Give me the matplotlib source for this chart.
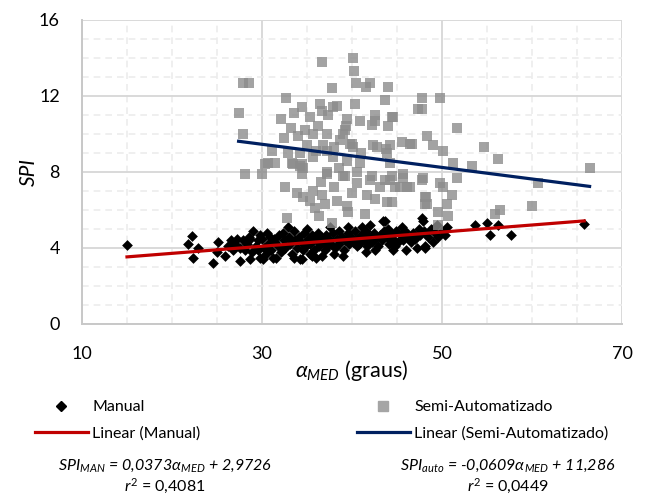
import numpy as np
import matplotlib
matplotlib.use('Agg')
import matplotlib.pyplot as plt
from matplotlib.lines import Line2D
from matplotlib.ticker import MultipleLocator

plt.rcParams['font.family'] = ['Lato', 'DejaVu Sans']
plt.rcParams['mathtext.fontset'] = 'custom'
plt.rcParams['mathtext.rm'] = 'Lato'
plt.rcParams['mathtext.it'] = 'Lato:italic'
plt.rcParams['mathtext.bf'] = 'Lato:bold'

# Manual (black diamonds)
man_x = [15.0, 22.2, 21.8, 22.9, 22.3, 24.6, 25.1, 25.0, 25.9, 27.2, 27.6, 27.6, 28.3, 29.0,
         28.7, 28.9, 29.8, 29.8, 30.6, 30.7, 31.4, 31.6, 32.3, 32.6, 28.7, 31.2, 32.9, 34.2,
         35.0, 35.6, 36.7, 37.6, 34.4, 35.3, 37.3, 41.1, 43.4, 43.7, 40.6, 44.8, 44.6, 47.2,
         48.1, 49.0, 47.9, 49.4, 47.8, 50.6, 53.7, 55.0, 56.2, 55.3, 57.7, 65.8, 48.1,
         26.2, 26.5, 26.8, 27.0, 27.9, 28.1, 28.5, 29.3, 29.5, 29.6, 30.0, 30.2, 30.4, 30.9,
         31.0, 31.3, 31.8, 31.9, 32.1, 32.4, 33.0, 33.1, 33.3, 33.5, 33.7, 33.9, 34.1, 34.3,
         34.5, 34.7, 34.9, 35.1, 35.3, 35.5, 35.8, 36.0, 36.2, 36.3, 36.5, 36.8, 37.0, 37.1,
         37.4, 37.7, 37.9, 38.1, 38.3, 38.5, 38.6, 38.9, 39.1, 39.2, 39.5, 39.7, 39.9, 40.1,
         40.3, 40.5, 40.8, 41.0, 41.3, 41.5, 41.7, 41.9, 42.2, 42.4, 42.6, 42.9, 43.1, 43.3,
         43.6, 43.9, 44.1, 44.3, 44.6, 44.9, 45.1, 45.4, 45.7, 45.9, 46.2, 46.5, 46.8, 47.0,
         47.4, 47.6, 48.0, 48.4, 48.8, 49.2, 49.6, 50.0, 50.3,
         36.0, 38.0, 39.0, 41.5, 42.5, 46.0, 39.6, 42.0, 44.0, 45.5, 33.6, 30.1]
man_y = [4.15, 4.65, 4.2, 4.0, 3.45, 3.2, 4.3, 3.8, 3.6, 4.5, 4.0, 3.3, 4.2, 4.9,
         4.5, 3.8, 4.7, 3.5, 4.8, 4.2, 4.3, 3.5, 4.8, 4.0, 3.4, 3.5, 5.1, 3.4,
         5.0, 3.6, 3.6, 5.1, 3.4, 3.7, 4.1, 5.1, 5.4, 5.4, 4.1, 4.1, 3.9, 4.0,
         4.1, 4.3, 5.4, 5.2, 5.6, 5.1, 5.2, 5.3, 5.2, 4.7, 4.7, 5.25, 4.0,
         4.1, 4.4, 3.9, 4.2, 4.4, 3.9, 4.6, 4.1, 4.4, 3.9, 4.5, 4.0, 3.7, 4.6,
         3.9, 4.5, 4.1, 4.7, 3.8, 4.4, 4.6, 4.2, 3.7, 4.9, 4.4, 4.0, 4.6, 4.3,
         3.9, 4.8, 4.1, 4.5, 4.2, 4.7, 3.9, 4.4, 4.8, 4.1, 4.6, 4.3, 3.9, 4.7,
         4.5, 4.2, 4.8, 4.0, 4.5, 4.9, 4.2, 4.6, 3.9, 4.4, 4.8, 4.2, 4.6, 4.3,
         4.9, 4.5, 4.2, 4.7, 4.4, 4.9, 4.1, 4.6, 4.3, 4.8, 4.5, 4.1, 4.7, 4.4,
         4.9, 4.6, 4.2, 4.8, 4.5, 4.9, 4.3, 4.7, 4.4, 4.9, 4.6, 4.3, 4.8, 4.5,
         5.0, 4.7, 4.9, 4.6, 5.0, 4.8, 4.6, 4.9, 4.7,
         3.5, 3.7, 3.6, 3.8, 3.9, 3.9, 5.1, 5.2, 5.0, 5.1, 3.5, 3.4]

# Semi-Automatizado (gray squares)
auto_x = [27.9, 28.6, 36.7, 40.1, 40.2, 40.4, 41.6, 42.0, 44.0, 37.8, 43.7, 40.3, 47.8, 47.8,
          49.8, 44.6, 44.0, 51.7, 48.3, 45.6, 46.7, 49.0, 50.1, 54.7, 56.2, 51.2, 53.3, 66.4,
          43.8, 44.2, 43.7, 45.7, 47.8, 49.8, 51.7, 60.7, 44.8, 46.1, 50.1, 51.1, 48.2, 43.9,
          50.6, 48.1, 60.0, 56.4, 55.9, 49.6, 50.7, 49.6,
          32.7, 27.4, 36.4, 34.4, 33.6, 38.3, 37.9, 36.7, 37.3, 35.3, 32.1, 39.4, 40.9, 42.6,
          42.6, 44.4, 47.3, 33.2, 34.8, 36.2, 39.3, 42.2, 27.9, 32.4, 34.0, 35.7, 37.2, 39.0,
          38.7, 40.0, 40.1, 42.3, 42.8, 44.2, 46.4, 35.0, 31.1, 32.9, 34.2, 36.8, 37.2, 35.7,
          37.9, 39.4, 40.9, 43.9, 30.7, 30.3, 31.4, 33.4, 34.4, 34.6, 37.2, 39.2, 42.2, 44.4,
          45.7, 28.1, 30.0,
          32.6, 33.9, 34.6, 35.7, 35.3, 35.9, 36.7, 32.8, 34.2, 34.4, 33.3,
          39.2, 39.8, 37.2, 39.0, 40.6, 42.0, 43.1, 44.2, 45.3, 46.4, 47.9, 41.7, 38.3, 39.4,
          41.4, 48.3, 37.8, 48.1, 44.4,
          38.0, 36.0, 41.0, 38.5, 40.5, 36.5, 38.0, 40.0, 42.5, 37.0, 39.5, 36.3]
auto_y = [12.7, 12.7, 13.8, 14.0, 13.3, 12.7, 12.5, 12.7, 12.5, 12.4, 11.8, 11.6, 11.9, 11.3,
          11.9, 10.9, 10.4, 10.3, 9.9, 9.6, 9.5, 9.4, 9.1, 9.3, 8.7, 8.5, 8.3, 8.2,
          9.2, 8.5, 7.6, 7.7, 7.6, 7.4, 7.7, 7.4, 7.2, 7.2, 7.2, 6.8, 6.7, 6.4,
          6.3, 6.3, 6.2, 6.0, 5.8, 5.9, 5.7, 5.2,
          11.9, 11.1, 11.6, 11.4, 11.1, 11.5, 11.4, 11.2, 11.0, 10.9, 10.8, 10.8, 10.7, 11.0,
          10.7, 10.9, 11.3, 10.3, 10.2, 10.4, 10.4, 10.5, 10.0, 9.8, 9.9, 10.0, 10.0, 10.0,
          9.7, 9.5, 9.3, 9.4, 9.3, 9.4, 9.5, 9.4, 9.1, 9.0, 9.0, 9.4, 9.1, 8.8,
          8.8, 8.6, 8.5, 9.0, 8.5, 8.4, 8.5, 8.4, 8.4, 8.2, 8.0, 7.8, 7.8, 7.8,
          7.9, 7.9, 7.9,
          7.2, 6.9, 6.7, 7.0, 6.5, 6.1, 6.8, 5.6, 8.3, 7.9, 8.5,
          10.2, 9.5, 7.9, 7.8, 7.4, 7.6, 7.2, 7.6, 7.2, 7.2, 7.7, 6.8, 6.5, 6.2,
          5.8, 6.3, 5.3, 6.7, 6.4,
          9.3, 9.1, 9.0, 8.2, 8.0, 7.5, 7.2, 6.9, 6.6, 6.3, 5.9, 5.7]

# trend line coefficients (from the chart)
man_slope, man_icpt = 0.0373, 2.9726
auto_slope, auto_icpt = -0.0609, 11.286

fig = plt.figure(figsize=(6.48, 4.97), dpi=100)
ax = fig.add_axes([82 / 648, 173 / 497, 540 / 648, 304 / 497])

ax.scatter(man_x, man_y, marker='D', s=30, color='black', linewidths=0, zorder=3)
ax.scatter(auto_x, auto_y, marker='s', s=58, color='#8c8c8c', alpha=0.8,
           linewidths=0, zorder=4)

xm = np.array([min(man_x), max(man_x)])
ax.plot(xm, man_slope * xm + man_icpt, color='#c00000', lw=2.3, zorder=5)
xa = np.array([min(auto_x), max(auto_x)])
ax.plot(xa, auto_slope * xa + auto_icpt, color='#002060', lw=2.3, zorder=5)

ax.set_xlim(10, 70)
ax.set_ylim(0, 16)
ax.set_xticks([10, 30, 50, 70])
ax.set_yticks([0, 4, 8, 12, 16])
ax.xaxis.set_minor_locator(MultipleLocator(5))
ax.yaxis.set_minor_locator(MultipleLocator(1))
ax.grid(which='major', color='#d9d9d9', lw=1.4, zorder=0)
ax.grid(which='minor', color='#ececec', lw=1.2, ls=(0, (4, 3)), zorder=0)
ax.set_axisbelow(True)
ax.tick_params(which='both', length=0, labelsize=13, pad=16)
for s in ['top', 'right']:
    ax.spines[s].set_visible(False)
for s in ['left', 'bottom']:
    ax.spines[s].set_color('#c8c8c8')
    ax.spines[s].set_linewidth(1.4)

ax.set_xlabel(r'$\alpha_{MED}$ (graus)', fontsize=15.5)
ax.xaxis.set_label_coords(0.5, -0.112)
ax.xaxis.label.set_va('top')
ax.set_ylabel('SPI', fontsize=15, style='italic')
ax.yaxis.set_label_coords(-0.08, 0.5)

h_man = Line2D([], [], marker='D', ls='none', color='black', markersize=4.8)
h_man_l = Line2D([], [], color='#c00000', lw=2.3)
h_auto = Line2D([], [], marker='s', ls='none', color='#a5a5a5', markersize=7)
h_auto_l = Line2D([], [], color='#002060', lw=2.3)

leg_kw = dict(frameon=False, fontsize=11.5, handlelength=3.3, handletextpad=0.3,
              labelspacing=0.75, borderpad=0, borderaxespad=0, loc='upper left')
fig.legend([h_man, h_man_l], ['Manual', 'Linear (Manual)'],
           bbox_to_anchor=(35 / 648, 1 - 400 / 497), **leg_kw)
fig.legend([h_auto, h_auto_l], ['Semi-Automatizado', 'Linear (Semi-Automatizado)'],
           bbox_to_anchor=(357 / 648, 1 - 400 / 497), **leg_kw)

eq_kw = dict(ha='center', va='center', fontsize=11.5)
fig.text(165 / 648, 1 - 466 / 497,
         r'SPI$_{MAN}$ = 0,0373α$_{MED}$ + 2,9726', style='italic', **eq_kw)
fig.text(165 / 648, 1 - 486 / 497, r'$r^2$ = 0,4081', **eq_kw)
fig.text(508 / 648, 1 - 466 / 497,
         r'SPI$_{auto}$ = -0,0609α$_{MED}$ + 11,286', style='italic', **eq_kw)
fig.text(508 / 648, 1 - 486 / 497, r'$r^2$ = 0,0449', **eq_kw)

fig.savefig('out.png', dpi=100)
